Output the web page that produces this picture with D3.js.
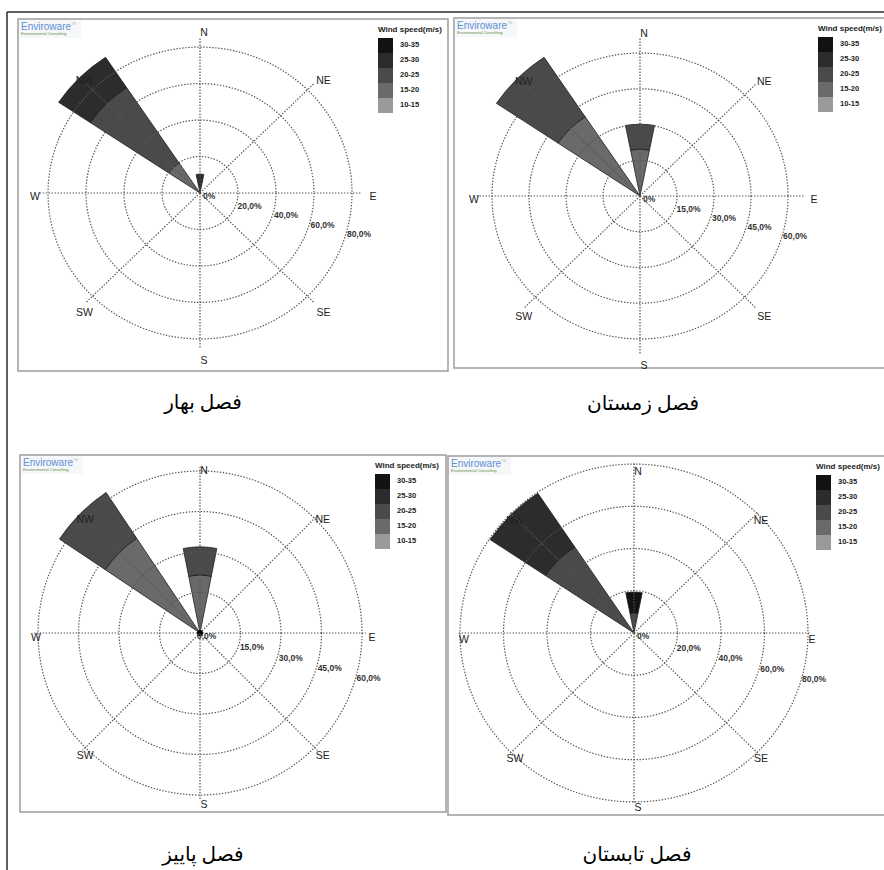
<!DOCTYPE html>
<html>
<head>
<meta charset="utf-8">
<script src="https://cdn.jsdelivr.net/npm/d3@7"></script>
<style>
  html, body { margin: 0; padding: 0; background: #fff; }
  svg { display: block; }
</style>
</head>
<body>
<svg id="chart" width="884" height="870"></svg>
<script>
// ---------------- DATA ----------------
const seasonTitles = ["فصل بهار", "فصل زمستان", "فصل پاییز", "فصل تابستان"];
const directions = ["N", "NE", "E", "SE", "S", "SW", "W", "NW"];
const speedBins = ["10-15", "15-20", "20-25", "25-30", "30-35"];
const legendTitle = "Wind speed(m/s)";

// frequency (%) per speed bin [10-15, 15-20, 20-25, 25-30, 30-35]
const springN  = [0, 0, 0, 10.4, 0];
const springNW = [0, 19.8, 49.7, 20.0, 0];
const winterN  = [0, 19.7, 10.5, 0, 0];
const winterNW = [0, 40.0, 30.0, 0, 0];
const autumnN  = [0, 21.5, 10.4, 0, 0];
const autumnNW = [0, 42.2, 20.4, 0, 0];
const summerN  = [0, 0, 9.5, 0, 9.9];
const summerNW = [0, 0, 49.0, 30.6, 0];

const ticksA = [20, 40, 60, 80];
const tickLabelsA = ["20,0%", "40,0%", "60,0%", "80,0%"];
const ticksB = [15, 30, 45, 60];
const tickLabelsB = ["15,0%", "30,0%", "45,0%", "60,0%"];

// ---------------- STYLE / LAYOUT ----------------
const binColors = ["#9a9a9a", "#6a6a6a", "#4a4a4a", "#2c2c2c", "#121212"];
const dirAngles = { N: 0, NE: 45, E: 90, SE: 135, S: 180, SW: 225, W: 270, NW: 315 };

const panels = [
  { title: seasonTitles[0], sectors: { N: springN, NW: springNW }, ticks: ticksA, tickLabels: tickLabelsA,
    zeroLabel: "0%", cx: 200, cy: 193, outerR: 152, ky: 0.96,
    rect: [18, 19, 430, 352], legendX: 378, titleY: 409, spoke: 162, lx: 169, ly: 164, lshift: [4, 4], dot: false },
  { title: seasonTitles[1], sectors: { N: winterN, NW: winterNW }, ticks: ticksB, tickLabels: tickLabelsB,
    zeroLabel: "0%", cx: 640, cy: 196, outerR: 148, ky: 0.966,
    rect: [454, 18, 440, 350], legendX: 818, titleY: 410, spoke: 164, lx: 170, ly: 166, lshift: [4, 4], dot: false },
  { title: seasonTitles[2], sectors: { N: autumnN, NW: autumnNW }, ticks: ticksB, tickLabels: tickLabelsB,
    zeroLabel: "0,0%", cx: 200, cy: 633, outerR: 162, ky: 1.0,
    rect: [20, 455, 426, 357], legendX: 375, titleY: 861, spoke: 166, lx: 168, ly: 167, lshift: [4, 5], dot: true },
  { title: seasonTitles[3], sectors: { N: summerN, NW: summerNW }, ticks: ticksA, tickLabels: tickLabelsA,
    zeroLabel: "0%", cx: 634, cy: 633, outerR: 174, ky: 0.971,
    rect: [448, 456, 446, 359], legendX: 816, titleY: 861, spoke: 176, lx: 174, ly: 168, lshift: [4, 7], dot: false }
];

const svg = d3.select("#chart");

// outer black frame (top and left edges visible)
svg.append("line").attr("x1", 7).attr("y1", 12).attr("x2", 884).attr("y2", 12)
  .attr("stroke", "#2a2a2a").attr("stroke-width", 1.5);
svg.append("line").attr("x1", 7).attr("y1", 12).attr("x2", 7).attr("y2", 870)
  .attr("stroke", "#2a2a2a").attr("stroke-width", 1.5);

const rad = d => d * Math.PI / 180;
const gridStyle = sel => sel.attr("fill", "none").attr("stroke", "#555")
  .attr("stroke-width", 1.2).attr("stroke-dasharray", "1.4,1.6")
  .attr("vector-effect", "non-scaling-stroke");

panels.forEach(p => {
  const [rx, ry, rw, rh] = p.rect;
  const pg = svg.append("g");

  // panel border
  pg.append("rect").attr("x", rx).attr("y", ry).attr("width", rw).attr("height", rh)
    .attr("fill", "#fff").attr("stroke", "#a3a3a3").attr("stroke-width", 1.6);

  // logo
  const logo = pg.append("g").attr("transform", `translate(${rx + 1},${ry + 1})`);
  logo.append("rect").attr("width", 62).attr("height", 18).attr("fill", "#f6f7f8");
  logo.append("text").attr("x", 2).attr("y", 9.5).text("Enviroware")
    .attr("font-family", "Liberation Sans, Arial, sans-serif").attr("font-size", 10)
    .attr("fill", "#5b8fd6");
  logo.append("text").attr("x", 2).attr("y", 14.5).text("Environmental Consulting")
    .attr("font-family", "Liberation Sans, Arial, sans-serif").attr("font-size", 4)
    .attr("fill", "#5f8f45");
  logo.append("text").attr("x", 52).attr("y", 5).text("TM")
    .attr("font-family", "Liberation Sans, Arial, sans-serif").attr("font-size", 3.5)
    .attr("fill", "#bbb");

  const r = d3.scaleLinear().domain([0, d3.max(p.ticks)]).range([0, p.outerR]);
  const g = pg.append("g").attr("transform", `translate(${p.cx},${p.cy}) scale(1,${p.ky})`);

  // wedges (drawn below the grid)
  const arc = d3.arc();
  Object.entries(p.sectors).forEach(([dir, vals]) => {
    const a = dirAngles[dir];
    let cum = 0;
    vals.forEach((v, i) => {
      if (v <= 0) return;
      g.append("path")
        .attr("d", arc({ innerRadius: r(cum), outerRadius: r(cum + v),
                         startAngle: rad(a - 11.25), endAngle: rad(a + 11.25) }))
        .attr("fill", binColors[i]).attr("stroke", "#1e1e1e").attr("stroke-width", 0.8)
        .attr("vector-effect", "non-scaling-stroke");
      cum += v;
    });
  });

  // rings
  g.selectAll("circle.ring").data(p.ticks).join("circle").attr("class", "ring")
    .attr("r", d => r(d)).call(gridStyle);

  // spokes
  g.selectAll("line.spoke").data(directions).join("line").attr("class", "spoke")
    .attr("x1", 0).attr("y1", 0)
    .attr("x2", d => Math.sin(rad(dirAngles[d])) * p.spoke)
    .attr("y2", d => -Math.cos(rad(dirAngles[d])) * p.spoke)
    .call(gridStyle);

  if (p.dot) {
    pg.append("circle").attr("cx", p.cx).attr("cy", p.cy).attr("r", 3).attr("fill", "#000");
  }

  // direction labels
  pg.selectAll("text.dir").data(directions).join("text").attr("class", "dir")
    .attr("x", d => p.cx + Math.sin(rad(dirAngles[d])) * p.lx + p.lshift[0])
    .attr("y", d => p.cy - Math.cos(rad(dirAngles[d])) * p.ly + p.lshift[1])
    .attr("text-anchor", "middle").attr("dominant-baseline", "middle")
    .attr("font-family", "Liberation Sans, Arial, sans-serif").attr("font-size", 10.5)
    .attr("fill", "#222").text(d => d);

  // ring labels
  const tickFont = sel => sel.attr("font-family", "Liberation Sans, Arial, sans-serif")
    .attr("font-size", 8.5).attr("font-weight", "bold").attr("fill", "#333")
    .attr("dominant-baseline", "middle");
  pg.selectAll("text.tick").data(p.ticks).join("text").attr("class", "tick")
    .attr("x", d => p.cx + r(d) * 0.96 + 1)
    .attr("y", d => p.cy + r(d) * p.ky * 0.25 + 5)
    .text((d, i) => p.tickLabels[i]).call(tickFont);
  pg.append("text").attr("x", p.cx + (p.dot ? -3 : 3)).attr("y", p.cy + 4)
    .text(p.zeroLabel).call(tickFont);

  // legend
  const lgY = ry + 19;
  pg.append("text").attr("x", p.legendX).attr("y", ry + 13).text(legendTitle)
    .attr("font-family", "Liberation Sans, Arial, sans-serif").attr("font-size", 8)
    .attr("font-weight", "bold").attr("fill", "#222");
  const binsTopDown = speedBins.slice().reverse();
  const ly = d3.scaleBand().domain(binsTopDown).range([lgY, lgY + 75]);
  pg.selectAll("rect.sw").data(binsTopDown).join("rect").attr("class", "sw")
    .attr("x", p.legendX).attr("y", d => ly(d)).attr("width", 15).attr("height", ly.bandwidth())
    .attr("fill", d => binColors[speedBins.indexOf(d)]);
  pg.selectAll("text.lg").data(binsTopDown).join("text").attr("class", "lg")
    .attr("x", p.legendX + 22).attr("y", d => ly(d) + ly.bandwidth() / 2)
    .attr("dominant-baseline", "middle")
    .attr("font-family", "Liberation Sans, Arial, sans-serif").attr("font-size", 7.5)
    .attr("font-weight", "bold").attr("fill", "#222").text(d => d);

  // season caption
  svg.append("text").attr("x", p.cx + 3).attr("y", p.titleY)
    .attr("text-anchor", "middle").attr("direction", "rtl")
    .attr("font-family", "'Times New Roman', 'Liberation Serif', 'DejaVu Sans', serif")
    .attr("font-size", 20).attr("font-weight", "normal").attr("fill", "#000").text(p.title);
});
</script>
</body>
</html>
